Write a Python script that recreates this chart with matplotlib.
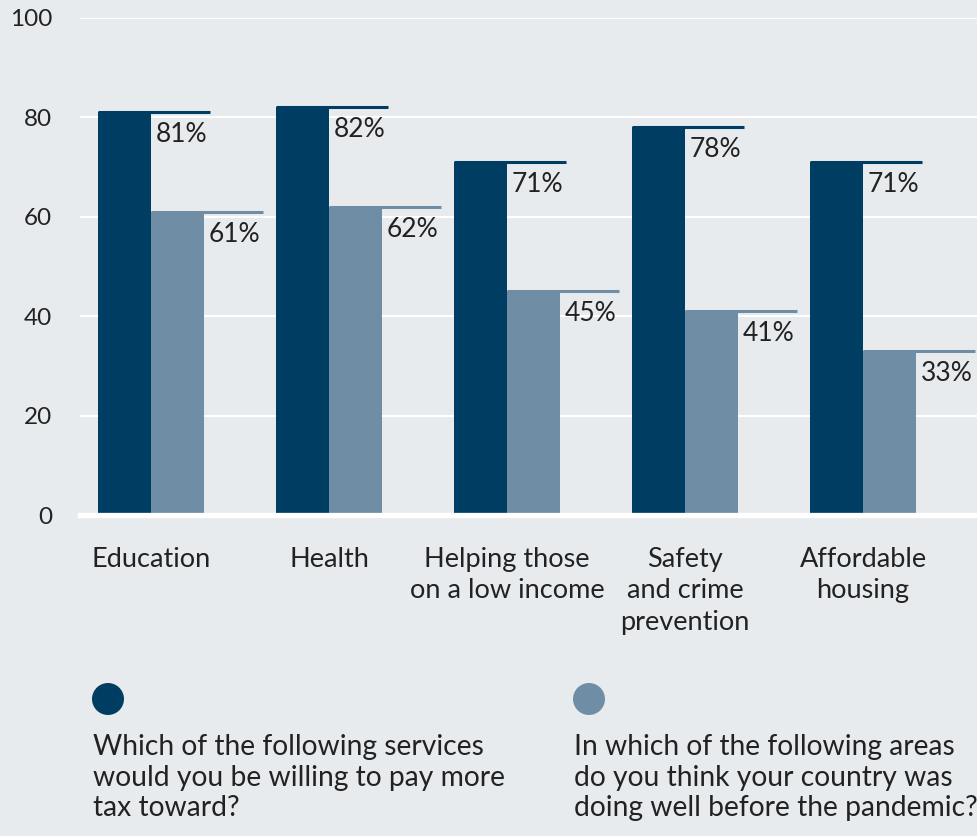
import matplotlib
matplotlib.use("Agg")
import matplotlib.pyplot as plt
from matplotlib.patches import Ellipse
import numpy as np

categories = ["Education", "Health", "Helping those\non a low income",
              "Safety\nand crime\nprevention", "Affordable\nhousing"]
willing_tax = [81, 82, 71, 78, 71]
doing_well = [61, 62, 45, 41, 33]
yticks = [0, 20, 40, 60, 80, 100]
legend_labels = ["Which of the following services\nwould you be willing to pay more\ntax toward?",
                 "In which of the following areas\ndo you think your country was\ndoing well before the pandemic?"]

BG = "#e8ebee"
DARK = "#003d62"
LIGHT = "#6f8ea5"
TXT = "#222222"
FONT = "Lato"

plt.rcParams['font.family'] = [FONT, 'DejaVu Sans']

fig = plt.figure(figsize=(9.77, 8.36), dpi=100)
fig.patch.set_facecolor(BG)
ax = fig.add_axes([80/977, (836-515)/836, 897/977, 497/836])
ax.set_facecolor(BG)

x = np.arange(len(categories))
w = 0.298
ext = 0.33

ax.bar(x - w, willing_tax, width=w, align='edge', color=DARK, zorder=2)
ax.bar(x, doing_well, width=w, align='edge', color=LIGHT, zorder=2)

for series, offset, col in [(willing_tax, -w, DARK), (doing_well, 0, LIGHT)]:
    for xi, v in zip(x, series):
        left = xi + offset
        ax.plot([left, left + w + ext], [v, v], color=col, lw=2.2,
                solid_capstyle='butt', zorder=3)
        ax.annotate(f"{v}%", (left + w, v), xytext=(3.5, -7), textcoords='offset points',
                    ha='left', va='top', fontsize=19, color=TXT, zorder=4)

ax.set_xlim(-0.40, 4.64)
ax.set_ylim(0, 100)
ax.set_yticks(yticks)
ax.set_yticklabels([str(t) for t in yticks], fontsize=17.5, color=TXT)
ax.set_xticks(x)
ax.set_xticklabels(categories, fontsize=19.5, color=TXT, linespacing=1.32)
ax.tick_params(axis='y', length=0, pad=20)
ax.tick_params(axis='x', length=0, pad=23)
for s in ax.spines.values():
    s.set_visible(False)
ax.grid(axis='y', color='white', lw=1.5, zorder=1)
ax.set_axisbelow(True)
ax.axhline(0, color='white', lw=3.8, zorder=5, clip_on=False)

# legend
for cx, col, lab, tx in [(108, DARK, legend_labels[0], 93), (589, LIGHT, legend_labels[1], 574)]:
    e = Ellipse((cx/977, 1 - 699/836), 32/977, 32/836,
                transform=fig.transFigure, color=col, ec='none')
    fig.patches.append(e)
    fig.text(tx/977, 1 - 734/836, lab, fontsize=20.3, color=TXT, ha='left', va='top',
             linespacing=1.22)

fig.savefig("out.png", dpi=100, facecolor=BG)
